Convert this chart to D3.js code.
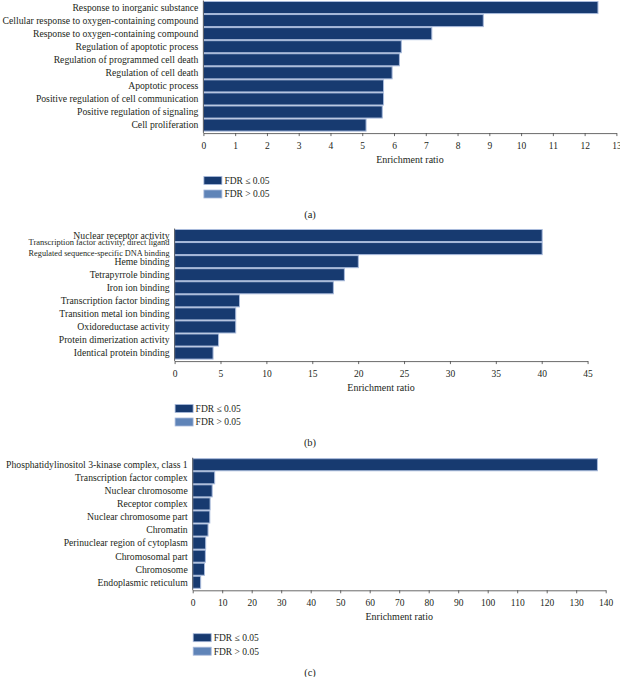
<!DOCTYPE html>
<html>
<head>
<meta charset="utf-8">
<script src="https://cdn.jsdelivr.net/npm/d3@7"></script>
<style>
  html, body { margin: 0; padding: 0; background: #fff; }
  svg { display: block; }
  text { font-family: "Liberation Serif", "Times New Roman", serif; fill: #231f20; }
</style>
</head>
<body>
<svg id="chart" width="620" height="677"></svg>
<script>
// ---- Data ----
const categoriesA = [
  "Response to inorganic substance",
  "Cellular response to oxygen-containing compound",
  "Response to oxygen-containing compound",
  "Regulation of apoptotic process",
  "Regulation of programmed cell death",
  "Regulation of cell death",
  "Apoptotic process",
  "Positive regulation of cell communication",
  "Positive regulation of signaling",
  "Cell proliferation"
];
const valuesA = [12.42, 8.81, 7.19, 6.23, 6.17, 5.94, 5.67, 5.67, 5.63, 5.12];
const ticksA = [0,1,2,3,4,5,6,7,8,9,10,11,12,13];

const categoriesB = [
  "Nuclear receptor activity",
  "Transcription factor activity, direct ligand\nRegulated sequence-specific DNA binding",
  "Heme binding",
  "Tetrapyrrole binding",
  "Iron ion binding",
  "Transcription factor binding",
  "Transition metal ion binding",
  "Oxidoreductase activity",
  "Protein dimerization activity",
  "Identical protein binding"
];
const valuesB = [40.05, 40.05, 20.02, 18.5, 17.3, 7.07, 6.66, 6.66, 4.79, 4.19];
const ticksB = [0,5,10,15,20,25,30,35,40,45];

const categoriesC = [
  "Phosphatidylinositol 3-kinase complex, class 1",
  "Transcription factor complex",
  "Nuclear chromosome",
  "Receptor complex",
  "Nuclear chromosome part",
  "Chromatin",
  "Perinuclear region of cytoplasm",
  "Chromosomal part",
  "Chromosome",
  "Endoplasmic reticulum"
];
const valuesC = [137.2, 7.45, 6.6, 5.9, 5.8, 5.2, 4.4, 4.3, 4.0, 2.7];
const ticksC = [0,10,20,30,40,50,60,70,80,90,100,110,120,130,140];

const legendLabels = ["FDR \u2264 0.05", "FDR > 0.05"];
const panelLetters = ["(a)", "(b)", "(c)"];
const axisTitle = "Enrichment ratio";

// ---- Layout ----
const colorSig = "#173a70";
const colorNonSig = "#5f84b8";
const barStroke = "#a8badb";
const panels = [
  { cats: categoriesA, vals: valuesA, ticks: ticksA, x0: 203.4, top: 1 },
  { cats: categoriesB, vals: valuesB, ticks: ticksB, x0: 174.6, top: 229 },
  { cats: categoriesC, vals: valuesC, ticks: ticksC, x0: 192.7, top: 458.2 }
];
const plotW = 413, plotH = 130.6;
const labelSize = 9.7;

const svg = d3.select("#chart");
svg.append("rect").attr("width", 620).attr("height", 677).attr("fill", "#fff");

panels.forEach((p, i) => {
  const g = svg.append("g");
  const ticks = p.ticks;
  const x = d3.scaleLinear().domain([0, ticks[ticks.length - 1]]).range([p.x0, p.x0 + plotW]);
  const y = d3.scaleBand().domain(p.cats).range([p.top, p.top + plotH]).padding(0);

  // bars
  g.selectAll("rect.bar").data(p.cats).enter().append("rect")
    .attr("class", "bar")
    .attr("x", x(0))
    .attr("y", d => y(d) + 0.5)
    .attr("width", (d, j) => x(p.vals[j]) - x(0))
    .attr("height", y.bandwidth() - 1)
    .attr("fill", colorSig)
    .attr("stroke", barStroke)
    .attr("stroke-width", 1);

  // x axis
  const axisY = p.top + plotH + 1.5;
  const ax = g.append("g")
    .attr("transform", `translate(0,${axisY})`)
    .call(d3.axisBottom(x).tickValues(ticks).tickSize(3).tickSizeOuter(0).tickPadding(6));
  ax.select(".domain").attr("stroke", "#444").attr("stroke-width", 0.8);
  ax.selectAll(".tick line").attr("stroke", "#444").attr("stroke-width", 0.8);
  ax.selectAll(".tick text").attr("font-size", 9.5)
    .style("font-family", '"Liberation Serif", serif').attr("fill", "#231f20");

  // y axis line
  g.append("line")
    .attr("x1", p.x0).attr("x2", p.x0)
    .attr("y1", p.top - 0.5).attr("y2", axisY)
    .attr("stroke", "#444").attr("stroke-width", 0.8);

  // category labels
  p.cats.forEach(c => {
    const lines = c.split("\n");
    const cy = y(c) + y.bandwidth() / 2;
    if (lines.length === 1) {
      g.append("text").attr("x", p.x0 - 5).attr("y", cy).attr("dy", "0.35em")
        .attr("text-anchor", "end").attr("font-size", labelSize).text(c);
    } else {
      const offs = [-6.2, 4.6];
      lines.forEach((l, k) => {
        g.append("text").attr("x", p.x0 - 5).attr("y", cy + offs[k]).attr("dy", "0.35em")
          .attr("text-anchor", "end").attr("font-size", 7.6)
          .attr("textLength", 141).attr("lengthAdjust", "spacingAndGlyphs").text(l);
      });
    }
  });

  // axis title
  g.append("text").attr("x", p.x0 + plotW / 2).attr("y", p.top + 158.7).attr("dy", "0.35em")
    .attr("text-anchor", "middle").attr("font-size", 10).text(axisTitle);

  // legend
  const legColors = [colorSig, colorNonSig];
  const legY = [p.top + 175.5, p.top + 189];
  legendLabels.forEach((lab, k) => {
    g.append("rect").attr("x", p.x0 + 0.5).attr("y", legY[k]).attr("width", 18).attr("height", 8)
      .attr("fill", legColors[k]).attr("stroke", barStroke).attr("stroke-width", 0.8);
    g.append("text").attr("x", p.x0 + 21).attr("y", legY[k] + 4).attr("dy", "0.35em")
      .attr("font-size", 9.5).text(lab);
  });

  // panel letter
  g.append("text").attr("x", 310).attr("y", p.top + 213.8).attr("dy", "0.35em")
    .attr("text-anchor", "middle").attr("font-size", 10.5).text(panelLetters[i]);
});
</script>
</body>
</html>
